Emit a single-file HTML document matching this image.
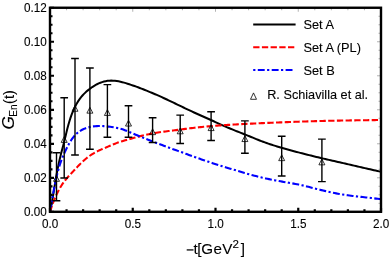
<!DOCTYPE html><html><head><meta charset="utf-8"><style>html,body{margin:0;padding:0;background:#fff}svg{display:block;will-change:transform;transform:translateZ(0)}text{font-family:"Liberation Sans",sans-serif;fill:#000}</style></head><body>
<svg width="390" height="258" viewBox="0 0 390 258">
<rect width="390" height="258" fill="#fff"/>
<clipPath id="c"><rect x="50.0" y="7.75" width="331.0" height="204.05"/></clipPath>
<g clip-path="url(#c)" fill="none">
<path d="M50.00,211.80 L50.39,210.00 L50.76,208.19 L51.12,206.38 L51.47,204.57 L51.81,202.76 L52.14,200.94 L52.46,199.13 L52.78,197.31 L53.09,195.49 L53.39,193.67 L53.69,191.85 L53.99,190.03 L54.28,188.21 L54.58,186.39 L54.88,184.57 L55.18,182.75 L55.48,180.93 L55.78,179.11 L56.10,177.30 L56.41,175.48 L56.74,173.66 L57.08,171.85 L57.42,170.04 L57.77,168.23 L58.14,166.42 L58.51,164.61 L58.90,162.81 L59.30,161.01 L59.71,159.21 L60.14,157.42 L60.58,155.63 L61.03,153.84 L61.49,152.05 L61.95,150.27 L62.42,148.48 L62.88,146.70 L63.35,144.91 L63.81,143.13 L64.26,141.34 L64.71,139.55 L65.15,137.76 L65.58,135.96 L66.01,134.17 L66.44,132.38 L66.88,130.59 L67.32,128.80 L67.78,127.01 L68.26,125.23 L68.76,123.45 L69.28,121.68 L69.82,119.92 L70.40,118.16 L71.00,116.42 L71.63,114.69 L72.30,112.96 L73.00,111.26 L73.74,109.56 L74.52,107.88 L75.33,106.22 L76.19,104.58 L77.10,102.97 L78.06,101.39 L79.08,99.85 L80.15,98.35 L81.29,96.89 L82.49,95.50 L83.75,94.15 L85.06,92.85 L86.42,91.60 L87.83,90.39 L89.27,89.23 L90.74,88.11 L92.26,87.05 L93.81,86.04 L95.40,85.10 L97.03,84.23 L98.70,83.43 L100.41,82.72 L102.16,82.10 L103.94,81.58 L105.75,81.16 L107.57,80.85 L109.40,80.67 L111.25,80.61 L113.09,80.66 L114.93,80.80 L116.77,81.04 L118.61,81.35 L120.43,81.73 L122.23,82.16 L124.03,82.63 L125.80,83.14 L127.56,83.68 L129.32,84.24 L131.06,84.83 L132.80,85.43 L134.54,86.05 L136.28,86.67 L138.01,87.31 L139.73,87.96 L141.46,88.61 L143.18,89.28 L144.89,89.96 L146.61,90.64 L148.32,91.34 L150.02,92.05 L151.72,92.76 L153.42,93.48 L155.11,94.21 L156.80,94.95 L158.49,95.70 L160.17,96.45 L161.85,97.21 L163.53,97.98 L165.21,98.75 L166.88,99.53 L168.55,100.31 L170.21,101.10 L171.88,101.90 L173.54,102.70 L175.20,103.50 L176.86,104.30 L178.52,105.11 L180.18,105.91 L181.84,106.72 L183.50,107.52 L185.16,108.31 L186.83,109.11 L188.50,109.90 L190.17,110.68 L191.84,111.45 L193.52,112.22 L195.20,112.98 L196.88,113.74 L198.56,114.49 L200.24,115.25 L201.93,116.00 L203.61,116.75 L205.30,117.50 L206.98,118.25 L208.67,119.00 L210.35,119.76 L212.03,120.52 L213.71,121.28 L215.39,122.04 L217.07,122.81 L218.75,123.57 L220.43,124.32 L222.11,125.08 L223.80,125.83 L225.49,126.57 L227.18,127.30 L228.87,128.03 L230.57,128.74 L232.28,129.44 L233.99,130.14 L235.70,130.82 L237.41,131.50 L239.13,132.18 L240.85,132.85 L242.56,133.53 L244.28,134.20 L245.99,134.88 L247.71,135.57 L249.42,136.26 L251.12,136.96 L252.83,137.67 L254.53,138.38 L256.23,139.08 L257.94,139.78 L259.65,140.46 L261.37,141.13 L263.10,141.78 L264.83,142.41 L266.57,143.02 L268.31,143.62 L270.06,144.21 L271.82,144.78 L273.58,145.34 L275.34,145.89 L277.10,146.43 L278.87,146.97 L280.64,147.49 L282.41,148.00 L284.18,148.51 L285.96,149.01 L287.73,149.51 L289.51,150.00 L291.29,150.49 L293.07,150.97 L294.85,151.44 L296.64,151.92 L298.42,152.39 L300.20,152.85 L301.99,153.32 L303.77,153.78 L305.56,154.23 L307.35,154.69 L309.14,155.14 L310.93,155.59 L312.72,156.03 L314.51,156.47 L316.30,156.91 L318.09,157.34 L319.88,157.77 L321.68,158.20 L323.47,158.62 L325.27,159.04 L327.07,159.45 L328.87,159.87 L330.66,160.28 L332.46,160.69 L334.26,161.10 L336.06,161.50 L337.86,161.91 L339.65,162.32 L341.45,162.73 L343.25,163.14 L345.05,163.55 L346.85,163.97 L348.64,164.38 L350.44,164.79 L352.24,165.21 L354.03,165.62 L355.83,166.04 L357.63,166.45 L359.43,166.87 L361.22,167.28 L363.02,167.70 L364.82,168.11 L366.61,168.52 L368.41,168.94 L370.21,169.35 L372.01,169.76 L373.81,170.17 L375.60,170.58 L377.40,170.99 L379.20,171.39 L381.00,171.80" stroke="#000" stroke-width="2.0"/>
<path d="M50.00,211.80 L50.46,210.34 L50.93,208.88 L51.41,207.43 L51.91,205.98 L52.43,204.54 L52.96,203.10 L53.51,201.67 L54.08,200.25 L54.66,198.83 L55.27,197.43 L55.89,196.03 L56.53,194.64 L57.20,193.26 L57.89,191.89 L58.60,190.53 L59.33,189.19 L60.08,187.86 L60.86,186.54 L61.67,185.23 L62.50,183.95 L63.37,182.68 L64.27,181.44 L65.20,180.23 L66.17,179.05 L67.16,177.88 L68.17,176.73 L69.20,175.59 L70.24,174.47 L71.29,173.34 L72.33,172.22 L73.38,171.10 L74.42,169.98 L75.47,168.87 L76.53,167.76 L77.58,166.65 L78.65,165.55 L79.73,164.46 L80.81,163.38 L81.91,162.32 L83.03,161.27 L84.16,160.24 L85.32,159.23 L86.50,158.26 L87.71,157.31 L88.94,156.39 L90.19,155.51 L91.47,154.65 L92.76,153.84 L94.08,153.05 L95.42,152.31 L96.78,151.60 L98.15,150.93 L99.54,150.28 L100.94,149.66 L102.34,149.05 L103.75,148.45 L105.17,147.85 L106.58,147.25 L107.99,146.65 L109.39,146.03 L110.80,145.42 L112.20,144.82 L113.62,144.23 L115.04,143.67 L116.47,143.13 L117.91,142.61 L119.36,142.13 L120.82,141.66 L122.29,141.21 L123.75,140.77 L125.22,140.33 L126.69,139.90 L128.17,139.48 L129.64,139.06 L131.11,138.64 L132.58,138.23 L134.06,137.82 L135.54,137.42 L137.02,137.02 L138.50,136.63 L139.98,136.25 L141.47,135.88 L142.96,135.52 L144.45,135.16 L145.94,134.82 L147.43,134.49 L148.93,134.16 L150.43,133.85 L151.93,133.56 L153.44,133.28 L154.95,133.01 L156.46,132.76 L157.97,132.52 L159.48,132.29 L161.00,132.07 L162.52,131.87 L164.03,131.66 L165.55,131.47 L167.07,131.27 L168.59,131.08 L170.11,130.89 L171.63,130.69 L173.15,130.49 L174.67,130.29 L176.18,130.09 L177.70,129.89 L179.22,129.69 L180.74,129.49 L182.26,129.29 L183.77,129.09 L185.29,128.89 L186.81,128.70 L188.33,128.51 L189.85,128.32 L191.37,128.13 L192.89,127.95 L194.41,127.77 L195.93,127.60 L197.45,127.43 L198.98,127.27 L200.50,127.10 L202.02,126.95 L203.55,126.79 L205.07,126.65 L206.60,126.50 L208.12,126.36 L209.65,126.23 L211.17,126.10 L212.70,125.98 L214.22,125.86 L215.75,125.74 L217.28,125.63 L218.81,125.52 L220.33,125.41 L221.86,125.31 L223.39,125.21 L224.92,125.11 L226.45,125.02 L227.97,124.92 L229.50,124.83 L231.03,124.74 L232.56,124.65 L234.09,124.56 L235.62,124.47 L237.15,124.38 L238.67,124.30 L240.20,124.21 L241.73,124.13 L243.26,124.05 L244.79,123.97 L246.32,123.89 L247.85,123.81 L249.38,123.73 L250.91,123.66 L252.44,123.58 L253.97,123.51 L255.50,123.44 L257.02,123.37 L258.55,123.30 L260.08,123.23 L261.61,123.16 L263.14,123.09 L264.67,123.03 L266.20,122.96 L267.73,122.90 L269.26,122.83 L270.79,122.77 L272.32,122.71 L273.85,122.65 L275.38,122.59 L276.91,122.52 L278.44,122.46 L279.97,122.40 L281.50,122.34 L283.03,122.28 L284.56,122.22 L286.09,122.16 L287.62,122.10 L289.15,122.04 L290.68,121.98 L292.21,121.92 L293.74,121.86 L295.27,121.81 L296.80,121.75 L298.33,121.69 L299.86,121.64 L301.39,121.58 L302.92,121.53 L304.45,121.48 L305.99,121.43 L307.52,121.38 L309.05,121.33 L310.58,121.28 L312.11,121.24 L313.64,121.19 L315.17,121.15 L316.70,121.11 L318.23,121.06 L319.76,121.02 L321.29,120.99 L322.82,120.95 L324.35,120.91 L325.88,120.87 L327.41,120.84 L328.94,120.81 L330.48,120.77 L332.01,120.74 L333.54,120.71 L335.07,120.68 L336.60,120.65 L338.13,120.62 L339.66,120.59 L341.19,120.57 L342.72,120.54 L344.25,120.51 L345.79,120.49 L347.32,120.46 L348.85,120.44 L350.38,120.41 L351.91,120.39 L353.44,120.37 L354.97,120.35 L356.50,120.32 L358.03,120.30 L359.57,120.28 L361.10,120.26 L362.63,120.24 L364.16,120.22 L365.69,120.20 L367.22,120.18 L368.75,120.16 L370.28,120.14 L371.81,120.12 L373.34,120.10 L374.88,120.08 L376.41,120.06 L377.94,120.04 L379.47,120.02 L381.00,120.00" stroke="#f00" stroke-width="2.1" stroke-dasharray="6.3,2.4"/>
<path d="M50.00,211.80 L50.29,210.15 L50.58,208.50 L50.86,206.85 L51.14,205.20 L51.42,203.55 L51.71,201.90 L51.99,200.24 L52.27,198.59 L52.56,196.94 L52.85,195.29 L53.14,193.64 L53.44,192.00 L53.74,190.35 L54.05,188.70 L54.37,187.06 L54.69,185.41 L55.02,183.77 L55.36,182.13 L55.71,180.49 L56.08,178.86 L56.45,177.22 L56.83,175.59 L57.23,173.96 L57.65,172.34 L58.08,170.71 L58.53,169.10 L58.99,167.49 L59.48,165.88 L59.99,164.29 L60.53,162.70 L61.08,161.12 L61.67,159.55 L62.28,157.99 L62.92,156.44 L63.58,154.90 L64.26,153.37 L64.96,151.85 L65.69,150.34 L66.42,148.83 L67.17,147.33 L67.94,145.84 L68.72,144.36 L69.53,142.90 L70.38,141.45 L71.28,140.03 L72.23,138.64 L73.25,137.30 L74.33,136.00 L75.48,134.75 L76.69,133.58 L77.96,132.48 L79.30,131.47 L80.71,130.56 L82.17,129.74 L83.69,129.02 L85.25,128.39 L86.85,127.84 L88.47,127.37 L90.11,126.98 L91.77,126.65 L93.43,126.40 L95.10,126.21 L96.77,126.08 L98.44,126.01 L100.12,126.00 L101.79,126.04 L103.46,126.12 L105.13,126.25 L106.80,126.42 L108.47,126.61 L110.13,126.82 L111.80,127.05 L113.46,127.30 L115.12,127.58 L116.77,127.89 L118.41,128.24 L120.03,128.64 L121.64,129.10 L123.23,129.61 L124.81,130.18 L126.37,130.78 L127.92,131.42 L129.47,132.07 L131.01,132.73 L132.56,133.38 L134.10,134.03 L135.65,134.68 L137.19,135.32 L138.74,135.96 L140.29,136.60 L141.84,137.23 L143.39,137.86 L144.94,138.48 L146.50,139.10 L148.06,139.71 L149.62,140.32 L151.18,140.93 L152.74,141.53 L154.31,142.13 L155.87,142.73 L157.44,143.32 L159.01,143.91 L160.57,144.50 L162.14,145.09 L163.71,145.67 L165.28,146.26 L166.86,146.84 L168.43,147.42 L170.00,148.00 L171.57,148.58 L173.14,149.16 L174.72,149.73 L176.29,150.31 L177.86,150.89 L179.44,151.46 L181.01,152.04 L182.58,152.61 L184.16,153.18 L185.73,153.75 L187.31,154.33 L188.88,154.90 L190.46,155.46 L192.03,156.03 L193.61,156.60 L195.19,157.16 L196.76,157.73 L198.34,158.29 L199.92,158.84 L201.50,159.40 L203.09,159.95 L204.67,160.50 L206.25,161.04 L207.84,161.58 L209.43,162.11 L211.02,162.64 L212.61,163.16 L214.20,163.68 L215.80,164.19 L217.39,164.70 L218.99,165.20 L220.59,165.70 L222.19,166.20 L223.79,166.70 L225.39,167.19 L226.99,167.68 L228.59,168.17 L230.20,168.65 L231.80,169.14 L233.41,169.62 L235.01,170.10 L236.62,170.59 L238.22,171.07 L239.83,171.55 L241.43,172.02 L243.04,172.50 L244.65,172.97 L246.26,173.43 L247.87,173.89 L249.48,174.34 L251.10,174.79 L252.71,175.23 L254.33,175.66 L255.95,176.09 L257.57,176.50 L259.20,176.91 L260.83,177.30 L262.46,177.68 L264.09,178.05 L265.72,178.42 L267.36,178.77 L269.00,179.11 L270.64,179.45 L272.28,179.78 L273.93,180.10 L275.57,180.42 L277.22,180.73 L278.87,181.03 L280.52,181.33 L282.17,181.63 L283.82,181.92 L285.47,182.21 L287.12,182.50 L288.77,182.79 L290.42,183.07 L292.07,183.36 L293.73,183.65 L295.37,183.94 L297.02,184.25 L298.67,184.56 L300.31,184.90 L301.94,185.25 L303.58,185.62 L305.21,186.01 L306.83,186.40 L308.46,186.81 L310.08,187.23 L311.70,187.65 L313.33,188.07 L314.95,188.49 L316.57,188.90 L318.20,189.31 L319.82,189.71 L321.45,190.11 L323.08,190.50 L324.71,190.88 L326.34,191.26 L327.98,191.63 L329.61,191.99 L331.25,192.34 L332.89,192.69 L334.53,193.02 L336.18,193.35 L337.82,193.66 L339.47,193.96 L341.12,194.26 L342.77,194.54 L344.42,194.81 L346.08,195.06 L347.74,195.31 L349.40,195.54 L351.06,195.75 L352.72,195.96 L354.38,196.16 L356.05,196.35 L357.71,196.54 L359.38,196.72 L361.04,196.90 L362.71,197.07 L364.38,197.25 L366.04,197.43 L367.71,197.61 L369.37,197.79 L371.04,197.98 L372.70,198.17 L374.36,198.38 L376.03,198.59 L377.69,198.81 L379.34,199.05 L381.00,199.30" stroke="#00f" stroke-width="2.1" stroke-dasharray="2.2,2.4,6.9,2.4"/>
<path d="M56.5,152.8 V200.8 M52.65,152.8 H60.35 M52.65,200.8 H60.35" stroke="#000" stroke-width="1.4"/>
<path d="M64.2,97.8 V178 M60.35,97.8 H68.05 M60.35,178 H68.05" stroke="#000" stroke-width="1.4"/>
<path d="M75.0,58.5 V155 M71.15,58.5 H78.85 M71.15,155 H78.85" stroke="#000" stroke-width="1.4"/>
<path d="M89.9,68.0 V149.3 M86.05000000000001,68.0 H93.75 M86.05000000000001,149.3 H93.75" stroke="#000" stroke-width="1.4"/>
<path d="M107.4,84.6 V137.3 M103.55000000000001,84.6 H111.25 M103.55000000000001,137.3 H111.25" stroke="#000" stroke-width="1.4"/>
<path d="M128.5,105.8 V137.3 M124.65,105.8 H132.35 M124.65,137.3 H132.35" stroke="#000" stroke-width="1.4"/>
<path d="M152.6,117.8 V142.5 M148.75,117.8 H156.45 M148.75,142.5 H156.45" stroke="#000" stroke-width="1.4"/>
<path d="M180.2,115.1 V143.5 M176.35,115.1 H184.04999999999998 M176.35,143.5 H184.04999999999998" stroke="#000" stroke-width="1.4"/>
<path d="M211.1,111.7 V140.5 M207.25,111.7 H214.95 M207.25,140.5 H214.95" stroke="#000" stroke-width="1.4"/>
<path d="M244.9,120.9 V153.2 M241.05,120.9 H248.75 M241.05,153.2 H248.75" stroke="#000" stroke-width="1.4"/>
<path d="M281.7,136.3 V176 M277.84999999999997,136.3 H285.55 M277.84999999999997,176 H285.55" stroke="#000" stroke-width="1.4"/>
<path d="M321.9,139.1 V181.6 M318.04999999999995,139.1 H325.75 M318.04999999999995,181.6 H325.75" stroke="#000" stroke-width="1.4"/>
<path d="M56.50,175.50 L59.50,181.30 L53.50,181.30 Z" stroke="#000" stroke-width="0.8" fill="none"/>
<path d="M64.20,136.60 L67.20,142.40 L61.20,142.40 Z" stroke="#000" stroke-width="0.8" fill="none"/>
<path d="M75.00,105.45 L78.00,111.25 L72.00,111.25 Z" stroke="#000" stroke-width="0.8" fill="none"/>
<path d="M89.90,107.35 L92.90,113.15 L86.90,113.15 Z" stroke="#000" stroke-width="0.8" fill="none"/>
<path d="M107.40,109.65 L110.40,115.45 L104.40,115.45 Z" stroke="#000" stroke-width="0.8" fill="none"/>
<path d="M128.50,120.25 L131.50,126.05 L125.50,126.05 Z" stroke="#000" stroke-width="0.8" fill="none"/>
<path d="M152.60,128.85 L155.60,134.65 L149.60,134.65 Z" stroke="#000" stroke-width="0.8" fill="none"/>
<path d="M180.20,128.00 L183.20,133.80 L177.20,133.80 Z" stroke="#000" stroke-width="0.8" fill="none"/>
<path d="M211.10,124.80 L214.10,130.60 L208.10,130.60 Z" stroke="#000" stroke-width="0.8" fill="none"/>
<path d="M244.90,135.75 L247.90,141.55 L241.90,141.55 Z" stroke="#000" stroke-width="0.8" fill="none"/>
<path d="M281.70,154.85 L284.70,160.65 L278.70,160.65 Z" stroke="#000" stroke-width="0.8" fill="none"/>
<path d="M321.90,159.05 L324.90,164.85 L318.90,164.85 Z" stroke="#000" stroke-width="0.8" fill="none"/>
</g>
<path d="M50.00,211.8 v-4.0 M66.55,211.8 v-2.5 M83.10,211.8 v-2.5 M99.65,211.8 v-2.5 M116.20,211.8 v-2.5 M132.75,211.8 v-4.0 M149.30,211.8 v-2.5 M165.85,211.8 v-2.5 M182.40,211.8 v-2.5 M198.95,211.8 v-2.5 M215.50,211.8 v-4.0 M232.05,211.8 v-2.5 M248.60,211.8 v-2.5 M265.15,211.8 v-2.5 M281.70,211.8 v-2.5 M298.25,211.8 v-4.0 M314.80,211.8 v-2.5 M331.35,211.8 v-2.5 M347.90,211.8 v-2.5 M364.45,211.8 v-2.5 M381.00,211.8 v-4.0 M50.0,211.80 h4.0 M50.0,203.30 h2.5 M50.0,194.80 h2.5 M50.0,186.29 h2.5 M50.0,177.79 h4.0 M50.0,169.29 h2.5 M50.0,160.79 h2.5 M50.0,152.29 h2.5 M50.0,143.78 h4.0 M50.0,135.28 h2.5 M50.0,126.78 h2.5 M50.0,118.28 h2.5 M50.0,109.78 h4.0 M50.0,101.27 h2.5 M50.0,92.77 h2.5 M50.0,84.27 h2.5 M50.0,75.77 h4.0 M50.0,67.26 h2.5 M50.0,58.76 h2.5 M50.0,50.26 h2.5 M50.0,41.76 h4.0 M50.0,33.26 h2.5 M50.0,24.75 h2.5 M50.0,16.25 h2.5 M50.0,7.75 h4.0" stroke="#000" stroke-width="2.2" fill="none"/>
<path d="M50.00,7.75 v4.0 M66.55,7.75 v2.5 M83.10,7.75 v2.5 M99.65,7.75 v2.5 M116.20,7.75 v2.5 M132.75,7.75 v4.0 M149.30,7.75 v2.5 M165.85,7.75 v2.5 M182.40,7.75 v2.5 M198.95,7.75 v2.5 M215.50,7.75 v4.0 M232.05,7.75 v2.5 M248.60,7.75 v2.5 M265.15,7.75 v2.5 M281.70,7.75 v2.5 M298.25,7.75 v4.0 M314.80,7.75 v2.5 M331.35,7.75 v2.5 M347.90,7.75 v2.5 M364.45,7.75 v2.5 M381.00,7.75 v4.0 M381.0,211.80 h-4.0 M381.0,203.30 h-2.5 M381.0,194.80 h-2.5 M381.0,186.29 h-2.5 M381.0,177.79 h-4.0 M381.0,169.29 h-2.5 M381.0,160.79 h-2.5 M381.0,152.29 h-2.5 M381.0,143.78 h-4.0 M381.0,135.28 h-2.5 M381.0,126.78 h-2.5 M381.0,118.28 h-2.5 M381.0,109.78 h-4.0 M381.0,101.27 h-2.5 M381.0,92.77 h-2.5 M381.0,84.27 h-2.5 M381.0,75.77 h-4.0 M381.0,67.26 h-2.5 M381.0,58.76 h-2.5 M381.0,50.26 h-2.5 M381.0,41.76 h-4.0 M381.0,33.26 h-2.5 M381.0,24.75 h-2.5 M381.0,16.25 h-2.5 M381.0,7.75 h-4.0" stroke="#666" stroke-width="0.5" fill="none"/>
<rect x="50.0" y="7.75" width="331.00" height="204.05" fill="none" stroke="#000" stroke-width="2.4"/>
<text transform="translate(46.7,215.90) scale(0.975,1)" font-size="12" text-anchor="end" stroke="#000" stroke-width="0.1">0.00</text>
<text transform="translate(46.7,181.89) scale(0.975,1)" font-size="12" text-anchor="end" stroke="#000" stroke-width="0.1">0.02</text>
<text transform="translate(46.7,147.88) scale(0.975,1)" font-size="12" text-anchor="end" stroke="#000" stroke-width="0.1">0.04</text>
<text transform="translate(46.7,113.88) scale(0.975,1)" font-size="12" text-anchor="end" stroke="#000" stroke-width="0.1">0.06</text>
<text transform="translate(46.7,79.87) scale(0.975,1)" font-size="12" text-anchor="end" stroke="#000" stroke-width="0.1">0.08</text>
<text transform="translate(46.7,45.86) scale(0.975,1)" font-size="12" text-anchor="end" stroke="#000" stroke-width="0.1">0.10</text>
<text transform="translate(46.7,11.85) scale(0.975,1)" font-size="12" text-anchor="end" stroke="#000" stroke-width="0.1">0.12</text>
<text transform="translate(50.10,227.55) scale(0.975,1)" font-size="12" text-anchor="middle" stroke="#000" stroke-width="0.1">0.0</text>
<text transform="translate(132.85,227.55) scale(0.975,1)" font-size="12" text-anchor="middle" stroke="#000" stroke-width="0.1">0.5</text>
<text transform="translate(215.60,227.55) scale(0.975,1)" font-size="12" text-anchor="middle" stroke="#000" stroke-width="0.1">1.0</text>
<text transform="translate(298.35,227.55) scale(0.975,1)" font-size="12" text-anchor="middle" stroke="#000" stroke-width="0.1">1.5</text>
<text transform="translate(381.10,227.55) scale(0.975,1)" font-size="12" text-anchor="middle" stroke="#000" stroke-width="0.1">2.0</text>
<rect x="186.7" y="249.3" width="6.8" height="1.25" fill="#000"/>
<text y="253.7" font-size="15.2" stroke="#000" stroke-width="0.1"><tspan x="193.6">t</tspan><tspan x="197.2">[</tspan><tspan x="201.2" letter-spacing="0.45">GeV</tspan><tspan x="240.8">]</tspan></text>
<text x="232.6" y="247.6" font-size="11.6" stroke="#000" stroke-width="0.1">2</text>
<g transform="translate(13.9,0) rotate(-90)"><text font-size="14.7" font-style="italic" transform="translate(-129.6,0) scale(1.17,1.11)" stroke="#000" stroke-width="0.1">G</text><text x="-116.7" y="2.6" font-size="10.1" stroke="#000" stroke-width="0.1">En</text><text x="-104.0" y="0" font-size="14.4" letter-spacing="0.1" stroke="#000" stroke-width="0.1">(t)</text></g>
<path d="M253.2,24.6 H295.6" stroke="#000" stroke-width="2.0" fill="none"/>
<path d="M253.2,47.2 H295.6" stroke="#f00" stroke-width="2.1" stroke-dasharray="6.3,2.4" fill="none"/>
<path d="M253.2,70 H294.6" stroke="#00f" stroke-width="2.1" stroke-dasharray="2.2,2.4,6.9,2.4" fill="none"/>
<path d="M253.50,92.90 L256.50,99.30 L250.50,99.30 Z" stroke="#000" stroke-width="0.8" fill="none"/>
<text transform="translate(303.4,29.4) scale(0.955,1)" font-size="13.4" stroke="#000" stroke-width="0.1">Set A</text>
<text transform="translate(303.4,52.0) scale(0.955,1)" font-size="13.4" stroke="#000" stroke-width="0.1">Set A (PL)</text>
<text transform="translate(303.4,75.0) scale(0.955,1)" font-size="13.4" stroke="#000" stroke-width="0.1">Set B</text>
<text transform="translate(267.2,99.3) scale(0.948,1)" font-size="13.4" stroke="#000" stroke-width="0.1">R. Schiavilla et al.</text>
</svg></body></html>
